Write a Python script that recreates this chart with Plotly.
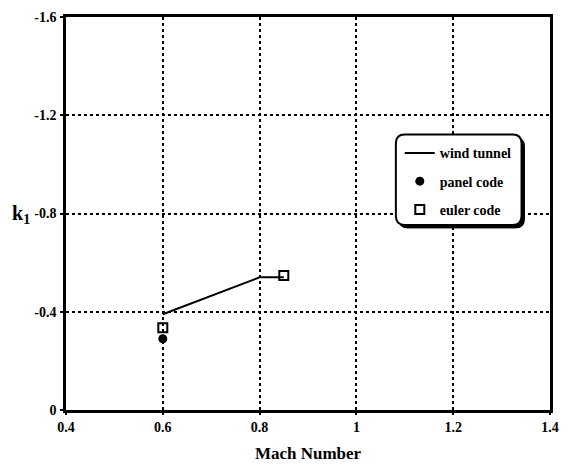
import plotly.graph_objects as go

# Data
wind_mach = [0.6, 0.8, 0.85]
wind_k1 = [-0.39, -0.54, -0.54]
panel_mach = [0.6]
panel_k1 = [-0.29]
euler_mach = [0.6, 0.85]
euler_k1 = [-0.335, -0.548]

x_ticks = [0.4, 0.6, 0.8, 1.0, 1.2, 1.4]
x_ticklabels = ["0.4", "0.6", "0.8", "1", "1.2", "1.4"]
y_ticks = [0, -0.4, -0.8, -1.2, -1.6]
y_ticklabels = ["0", "-0.4", "-0.8", "-1.2", "-1.6"]

FONT = "Liberation Serif, Times New Roman, serif"

def b(s):
    return f"<b>{s}</b>"

fig = go.Figure()
fig.add_trace(go.Scatter(x=wind_mach, y=wind_k1, mode="lines", name=b("wind tunnel"),
                         line=dict(color="black", width=2), legendgroup="a"))
fig.add_trace(go.Scatter(x=panel_mach, y=panel_k1, mode="markers", name=b("panel code"),
                         marker=dict(symbol="circle", color="black", size=9), legendgroup="b"))
fig.add_trace(go.Scatter(x=euler_mach, y=euler_k1, mode="markers", name=b("euler code"),
                         marker=dict(symbol="square-open", color="black", size=9,
                                     line=dict(width=2, color="black")), legendgroup="c"))

W, H = 568, 469
ml, mr, mt, mb = 66, 9, 17, 57
pw, ph = W - ml - mr, H - mt - mb

def px2paper(px, py):
    return (px - ml) / pw, (H - mb - py) / ph

def rrect(x0p, y0p, x1p, y1p, r):
    def P(x, y):
        a, c = px2paper(x, y)
        return f"{a:.5f},{c:.5f}"
    return (f"M {P(x0p + r, y0p)} L {P(x1p - r, y0p)} Q {P(x1p, y0p)} {P(x1p, y0p + r)} "
            f"L {P(x1p, y1p - r)} Q {P(x1p, y1p)} {P(x1p - r, y1p)} "
            f"L {P(x0p + r, y1p)} Q {P(x0p, y1p)} {P(x0p, y1p - r)} "
            f"L {P(x0p, y0p + r)} Q {P(x0p, y0p)} {P(x0p + r, y0p)} Z")

shapes = [
    dict(type="path", xref="paper", yref="paper", path=rrect(405, 138, 533, 229, 9),
         fillcolor="black", line=dict(color="black", width=1), layer="above"),
    dict(type="path", xref="paper", yref="paper", path=rrect(402, 135, 530, 226, 9),
         fillcolor="white", line=dict(color="black", width=2), layer="above"),
]

lx, ly = px2paper(406, 138)

fig.update_layout(
    width=W, height=H,
    margin=dict(l=ml, r=mr, t=mt, b=mb),
    paper_bgcolor="white", plot_bgcolor="white",
    font=dict(family=FONT, color="black", size=12),
    showlegend=True,
    legend=dict(x=lx, y=ly, xanchor="left", yanchor="top", bgcolor="rgba(0,0,0,0)",
                borderwidth=0, font=dict(family=FONT, size=14),
                traceorder="grouped", tracegroupgap=7, itemwidth=30),
    shapes=shapes,
    xaxis=dict(range=[0.4, 1.4], tickvals=x_ticks, ticktext=[b(t) for t in x_ticklabels],
               showgrid=True, gridcolor="black", griddash="dot", gridwidth=1.5,
               showline=True, linecolor="black", linewidth=2.5, mirror=True,
               ticks="outside", ticklen=2, tickwidth=1.5, tickcolor="black",
               ticklabelstandoff=0,
               zeroline=False, tickfont=dict(family=FONT, size=14),
               title=dict(text=b("Mach Number"), font=dict(family=FONT, size=17),
                          standoff=14)),
    yaxis=dict(range=[0, -1.6], tickvals=y_ticks, ticktext=[b(t) for t in y_ticklabels],
               showgrid=True, gridcolor="black", griddash="dot", gridwidth=1.5,
               showline=True, linecolor="black", linewidth=2.5, mirror=True,
               ticks="outside", ticklen=3, tickwidth=1.5, tickcolor="black",
               zeroline=False, tickfont=dict(family=FONT, size=14),
               ticklabelstandoff=1),
    annotations=[dict(text=b("k<sub>1</sub>"), xref="paper", yref="paper",
                      x=px2paper(9, 0)[0], y=px2paper(0, 216)[1], xanchor="left", yanchor="middle",
                      showarrow=False, font=dict(family=FONT, size=20))],
)

fig.write_html("out.html")
